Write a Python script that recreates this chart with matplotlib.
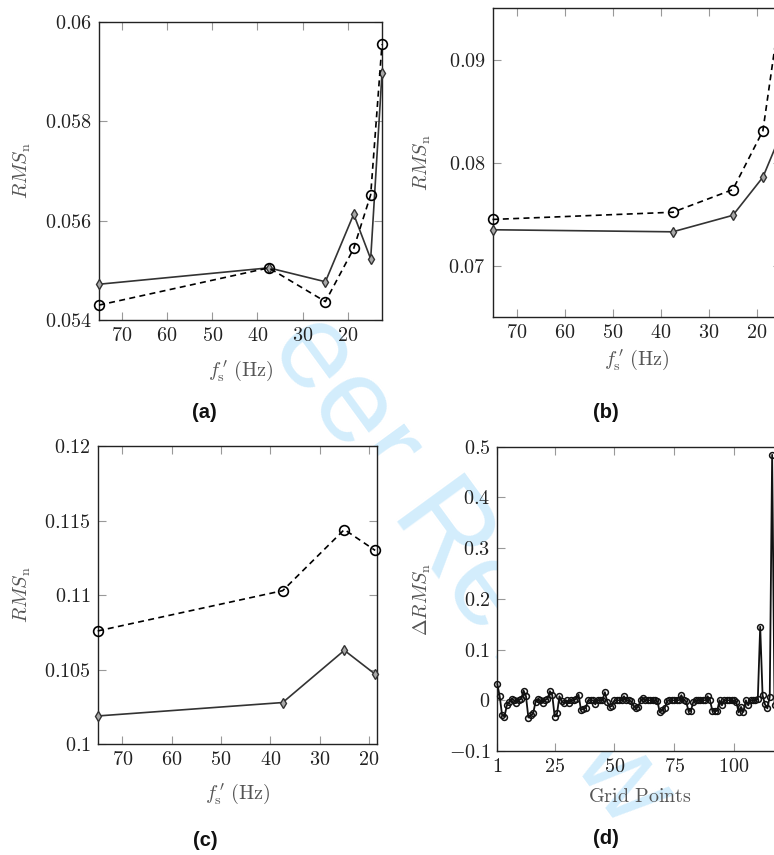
import matplotlib
matplotlib.use("Agg")
import matplotlib.pyplot as plt

plt.rcParams['mathtext.fontset'] = 'cm'
plt.rcParams['font.family'] = 'serif'
plt.rcParams['font.serif'] = ['cmr10', 'DejaVu Serif']
plt.rcParams['axes.formatter.use_mathtext'] = True

# ---------------- data ----------------
fs_a = [75, 37.5, 25, 18.75, 15, 12.5]
a_dashed = [0.0543, 0.05505, 0.05437, 0.05544, 0.05652, 0.05955]
a_solid = [0.05472, 0.05505, 0.05477, 0.05613, 0.05523, 0.05897]

fs_b = [75, 37.5, 25, 18.75, 15]
b_dashed = [0.0745, 0.0752, 0.0774, 0.0831, 0.0953]
b_solid = [0.0735, 0.0733, 0.0749, 0.0786, 0.0828]

fs_c = [75, 37.5, 25, 18.75]
c_dashed = [0.1076, 0.1103, 0.1144, 0.1130]
c_solid = [0.1019, 0.1028, 0.1063, 0.1047]

grid_points = list(range(1, 121))
d_delta = [
    0.032, 0.008, -0.029, -0.032, -0.010, -0.003, 0.003, 0.000, -0.005, 0.000,
    0.003, 0.019, 0.008, -0.034, -0.030, -0.026, -0.003, 0.002, 0.000, -0.005,
    0.000, 0.003, 0.018, 0.010, -0.032, -0.026, 0.008, -0.002, -0.006, 0.000,
    -0.006, 0.000, 0.000, 0.003, 0.011, -0.019, -0.017, -0.015, 0.000, 0.000,
    0.000, -0.008, 0.000, 0.000, 0.000, 0.016, -0.003, -0.013, -0.011, 0.000,
    0.000, 0.000, 0.000, 0.008, 0.000, 0.000, -0.002, -0.011, -0.015, -0.013,
    0.000, 0.004, 0.000, 0.000, 0.000, 0.000, 0.000, -0.002, -0.024, -0.019,
    -0.016, -0.002, 0.000, 0.000, 0.000, 0.000, 0.000, 0.010, 0.000, -0.002,
    -0.021, -0.021, -0.003, 0.000, 0.000, 0.000, 0.000, 0.000, 0.008, 0.000,
    -0.021, -0.021, -0.021, 0.000, -0.010, 0.000, 0.000, 0.000, 0.000, 0.000,
    -0.003, -0.024, -0.013, -0.023, 0.000, -0.010, 0.000, 0.000, 0.000, 0.002,
    0.145, 0.010, -0.008, -0.016, 0.007, 0.484, -0.010, -0.005, 0.000, 0.000,
]

fs_ticks = [70, 60, 50, 40, 30, 20]
a_yticks = [0.054, 0.056, 0.058, 0.06]
a_ylabels = ['0.054', '0.056', '0.058', '0.06']
b_yticks = [0.07, 0.08, 0.09]
b_ylabels = ['0.07', '0.08', '0.09']
c_yticks = [0.1, 0.105, 0.11, 0.115, 0.12]
c_ylabels = ['0.1', '0.105', '0.11', '0.115', '0.12']
d_xticks = [1, 25, 50, 75, 100]
d_yticks = [-0.1, 0, 0.1, 0.2, 0.3, 0.4, 0.5]
d_ylabels = ['-0.1', '0', '0.1', '0.2', '0.3', '0.4', '0.5']

W, H = 774, 855
fig = plt.figure(figsize=(W / 100, H / 100), dpi=100)

# watermark behind the axes
fig.text(447 / W, 1 - 538 / H, 'Peer Review', rotation=-53.9, fontsize=86.5,
         color='#d3edfc', ha='center', va='center', zorder=-10,
         family='Liberation Sans')


def px_axes(left, top, right, bottom):
    return fig.add_axes([left / W, 1 - bottom / H, (right - left) / W, (bottom - top) / H])


def style(ax, xticks, xlabels, yticks, ylabels):
    ax.set_xticks(xticks)
    ax.set_xticklabels(['$%s$' % s for s in xlabels])
    ax.set_yticks(yticks)
    ax.set_yticklabels(['$%s$' % s for s in ylabels])
    ax.tick_params(direction='in', length=6, width=0.8, color='#999999',
                   top=True, right=True, labelsize=14.5, labelcolor='#222222', pad=5)
    for s in ax.spines.values():
        s.set_color('#222222')
        s.set_linewidth(1.0)
    ax.set_facecolor('white')


def draw_pair(ax, fs, dashed, solid):
    ax.plot(fs, solid, color='#333333', lw=1.2, marker='d', ms=5,
            mfc='#a8a8a8', mec='#333333', mew=1.0, clip_on=False, zorder=3)
    ax.plot(fs, dashed, color='black', lw=1.2, linestyle=(0, (3.6, 2.6)),
            marker='o', ms=7, mfc='none', mec='black', mew=1.2, clip_on=False, zorder=4)


xlab = r'$f^{\,\prime}_{\mathrm{s}}\ \mathrm{(Hz)}$'
ylab = r'$RMS_{\mathrm{n}}$'
lab_color = '#555555'

# (a)
axa = px_axes(99, 22, 382, 320)
draw_pair(axa, fs_a, a_dashed, a_solid)
axa.set_xlim(75, 12.5)
axa.set_ylim(0.054, 0.06)
style(axa, fs_ticks, [str(t) for t in fs_ticks], a_yticks, a_ylabels)
axa.set_ylabel(ylab, fontsize=14.5, color=lab_color)
axa.set_xlabel(xlab, fontsize=14.5, color=lab_color)
axa.yaxis.set_label_coords(-0.233, 0.5)
axa.xaxis.set_label_coords(0.5, -0.128)

# (b)
axb = px_axes(492.5, 8.3, 780.9, 317.3)
draw_pair(axb, fs_b, b_dashed, b_solid)
axb.set_xlim(75, 15)
axb.set_ylim(0.065, 0.095)
style(axb, fs_ticks, [str(t) for t in fs_ticks], b_yticks, b_ylabels)
axb.set_ylabel(ylab, fontsize=14.5, color=lab_color)
axb.set_xlabel(xlab, fontsize=14.5, color=lab_color)
axb.yaxis.set_label_coords(-0.206, 0.5)
axb.xaxis.set_label_coords(0.5, -0.099)

# (c)
axc = px_axes(97.7, 446, 376.7, 744.3)
draw_pair(axc, fs_c, c_dashed, c_solid)
axc.set_xlim(75, 18.44)
axc.set_ylim(0.1, 0.12)
style(axc, fs_ticks, [str(t) for t in fs_ticks], c_yticks, c_ylabels)
axc.set_ylabel(ylab, fontsize=14.5, color=lab_color)
axc.set_xlabel(xlab, fontsize=14.5, color=lab_color)
axc.yaxis.set_label_coords(-0.232, 0.5)
axc.xaxis.set_label_coords(0.5, -0.126)

# (d)
axd = px_axes(497.3, 446.7, 781.7, 751)
axd.plot(grid_points, d_delta, color='#111111', lw=1.3, marker='o', ms=4.2,
         mfc='none', mec='#111111', mew=1.1, clip_on=False, zorder=3)
axd.set_xlim(1, 120)
axd.set_ylim(-0.1, 0.5)
style(axd, d_xticks, [str(t) for t in d_xticks], d_yticks, d_ylabels)
axd.set_ylabel(r'$\Delta RMS_{\mathrm{n}}$', fontsize=14.5, color=lab_color)
axd.set_xlabel(r'$\mathrm{Grid\ Points}$', fontsize=14.5, color=lab_color)
axd.yaxis.set_label_coords(-0.226, 0.5)
axd.xaxis.set_label_coords(0.5, -0.122)

# panel labels
for lbl, x, y in [('(a)', 204, 412), ('(b)', 606, 412), ('(c)', 205, 840), ('(d)', 606, 838)]:
    fig.text(x / W, 1 - y / H, lbl, fontsize=14.5, fontweight='bold',
             family='Liberation Sans', ha='center', va='center', color='#111111')

fig.savefig('out.png', dpi=100)
